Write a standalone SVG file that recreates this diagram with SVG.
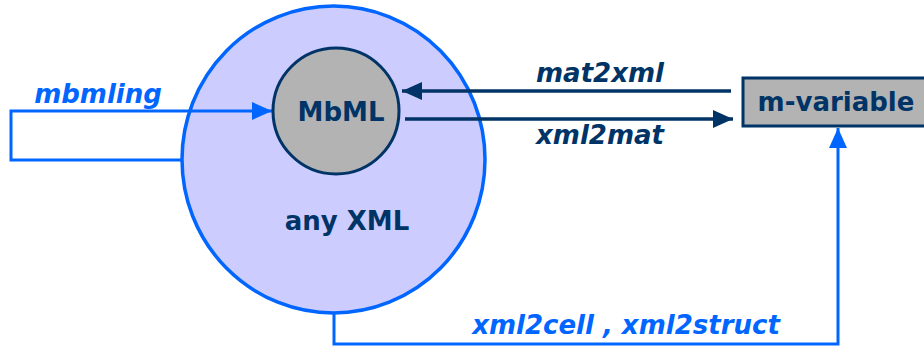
<svg xmlns="http://www.w3.org/2000/svg" width="924" height="347" viewBox="0 0 924 347">
  <style>
    .lbl { font-family: "DejaVu Sans", Verdana, sans-serif; font-weight: bold; font-size: 26px; }
    .navy { fill: #003366; }
    .blue { fill: #0066ff; }
    .it { font-style: italic; }
    .bline { fill: none; stroke: #0066ff; stroke-width: 3; }
    .nline { fill: none; stroke: #003366; stroke-width: 3.5; }
  </style>
  <defs>
    <marker id="ahBlue" markerUnits="userSpaceOnUse" viewBox="0 0 20 18" refX="20" refY="9" markerWidth="20" markerHeight="18" orient="auto">
      <path d="M0,0 L20,9 L0,18 Z" fill="#0066ff"/>
    </marker>
    <marker id="ahNavy" markerUnits="userSpaceOnUse" viewBox="0 0 20 18" refX="20" refY="9" markerWidth="20" markerHeight="18" orient="auto">
      <path d="M0,0 L20,9 L0,18 Z" fill="#003366"/>
    </marker>
  </defs>

  <g id="anyxml">
    <ellipse cx="333.5" cy="159.5" rx="151.5" ry="153.5" fill="#ccccff" stroke="#0066ff" stroke-width="3.5"/>
    <text class="lbl navy" x="347" y="230" text-anchor="middle">any XML</text>
  </g>

  <g id="connectors">
    <!-- mbmling: loop from the outer circle back into MbML -->
    <path class="bline" d="M182,160 H11 V111 H272" marker-end="url(#ahBlue)"/>
    <!-- mat2xml -->
    <path class="nline" d="M731,91 H402" marker-end="url(#ahNavy)"/>
    <!-- xml2mat -->
    <path class="nline" d="M405,119 H733" marker-end="url(#ahNavy)"/>
    <!-- xml2cell / xml2struct -->
    <path class="bline" d="M334,313 V344 H838 V128" marker-end="url(#ahBlue)"/>
  </g>

  <g id="mbml">
    <circle cx="336" cy="111" r="63" fill="#b3b3b3" stroke="#003366" stroke-width="3"/>
    <text class="lbl navy" x="341" y="121" text-anchor="middle">MbML</text>
  </g>

  <g id="mvariable">
    <rect x="743" y="78" width="185" height="48" fill="#b3b3b3" stroke="#003366" stroke-width="3"/>
    <text class="lbl navy" x="836" y="111" text-anchor="middle">m-variable</text>
  </g>

  <g id="labels">
    <text class="lbl blue it" x="98" y="103" text-anchor="middle">mbmling</text>
    <text class="lbl navy it" x="600" y="82" text-anchor="middle">mat2xml</text>
    <text class="lbl navy it" x="600" y="144" text-anchor="middle">xml2mat</text>
    <text class="lbl blue it" x="626" y="334" text-anchor="middle">xml2cell , xml2struct</text>
  </g>
</svg>
